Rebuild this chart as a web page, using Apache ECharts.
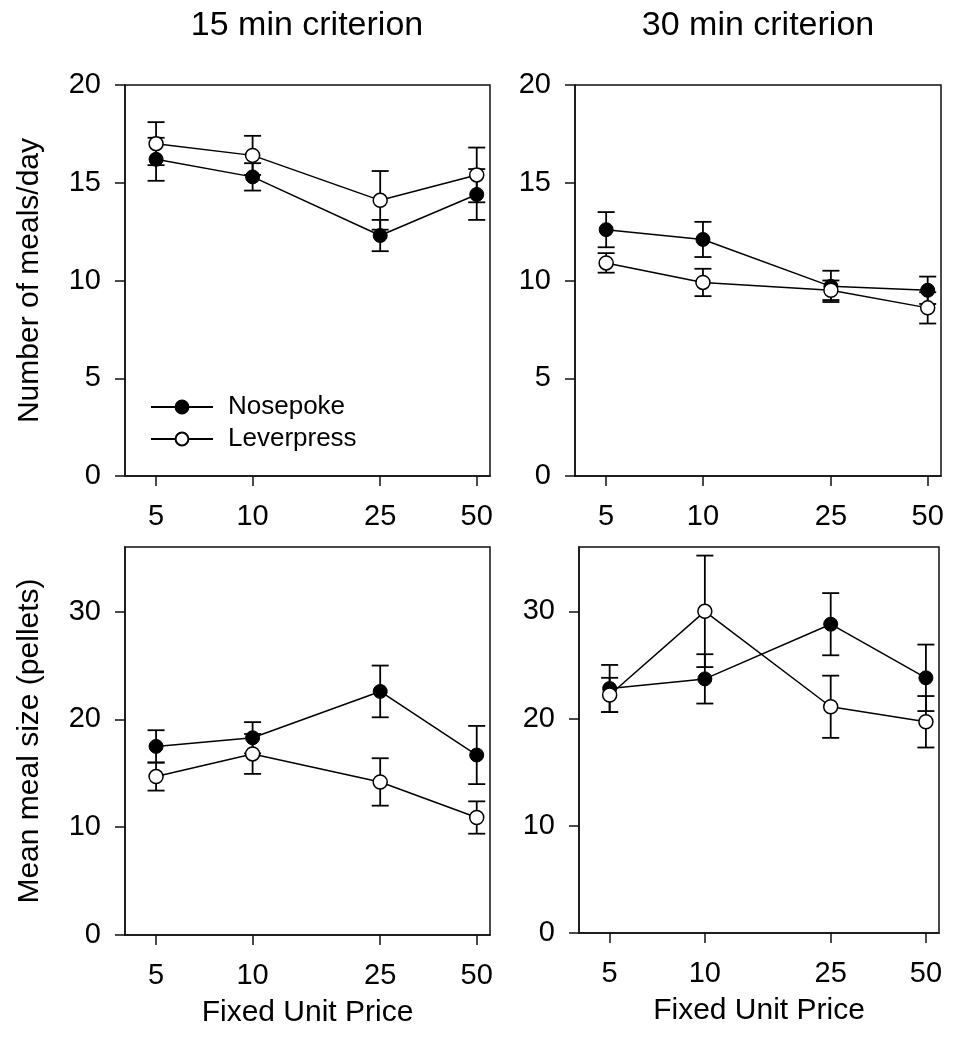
<!DOCTYPE html>
<html><head><meta charset="utf-8">
<script src="https://cdn.jsdelivr.net/npm/echarts@6/dist/echarts.min.js"></script>
<style>html,body{margin:0;padding:0;background:#fff}#c{width:966px;height:1050px}</style>
</head><body><div id="c"></div>
<script>
// ---- data ----
const prices = [5, 10, 25, 50];
const priceTicks = [5, 10, 25, 50];
const mealsTicks = [0, 5, 10, 15, 20];
const sizeTicks = [0, 10, 20, 30];
const panelTitles = ['15 min criterion', '30 min criterion'];
const seriesNames = ['Nosepoke', 'Leverpress'];

const meals15Nose = [16.2, 15.3, 12.3, 14.4];
const meals15NoseErr = [1.1, 0.7, 0.8, 1.3];
const meals15Lever = [17.0, 16.4, 14.1, 15.4];
const meals15LeverErr = [1.1, 1.0, 1.5, 1.4];

const meals30Nose = [12.6, 12.1, 9.7, 9.5];
const meals30NoseErr = [0.9, 0.9, 0.8, 0.7];
const meals30Lever = [10.9, 9.9, 9.5, 8.6];
const meals30LeverErr = [0.5, 0.7, 0.5, 0.8];

const size15Nose = [17.5, 18.3, 22.6, 16.7];
const size15NoseErr = [1.5, 1.45, 2.4, 2.7];
const size15Lever = [14.7, 16.8, 14.2, 10.9];
const size15LeverErr = [1.3, 1.85, 2.2, 1.5];

const size30Nose = [22.8, 23.7, 28.8, 23.8];
const size30NoseErr = [2.2, 2.3, 2.9, 3.1];
const size30Lever = [22.2, 30.0, 21.1, 19.7];
const size30LeverErr = [1.6, 5.2, 2.9, 2.4];

// ---- styling ----
const FONT = 'Liberation Sans, Arial, Helvetica, sans-serif';
const INK = '#111';

const grids = [
  {left: 125, top: 85, width: 365, height: 391},
  {left: 575, top: 85, width: 366, height: 391},
  {left: 125, top: 547, width: 365, height: 388},
  {left: 579, top: 547, width: 360, height: 386}
].map(g => Object.assign({show: true, borderColor: INK, borderWidth: 1.5, backgroundColor: 'transparent'}, g));

function xAxis(i, withName) {
  return {
    type: 'log', gridIndex: i, min: 4, max: 55,
    axisLine: {show: true, lineStyle: {color: INK, width: 1.5}},
    axisTick: {show: true, inside: false, length: 10, customValues: priceTicks, lineStyle: {color: INK, width: 1.5}},
    axisLabel: {show: true, margin: 26, customValues: priceTicks, color: '#000', fontFamily: FONT, fontSize: 29,
      formatter: v => String(Math.round(v))},
    splitLine: {show: false},
    name: withName ? 'Fixed Unit Price' : '',
    nameLocation: 'middle', nameGap: 63,
    nameTextStyle: {color: '#000', fontFamily: FONT, fontSize: 30}
  };
}
function yAxis(i, ticks, max, name) {
  return {
    type: 'value', gridIndex: i, min: 0, max: max,
    axisLine: {show: true, lineStyle: {color: INK, width: 1.5}},
    axisTick: {show: true, inside: false, length: 10, customValues: ticks, lineStyle: {color: INK, width: 1.5}},
    axisLabel: {show: true, margin: 24, customValues: ticks, color: '#000', fontFamily: FONT, fontSize: 29},
    splitLine: {show: false},
    name: name || '', nameLocation: 'middle', nameGap: 80,
    nameTextStyle: {color: '#000', fontFamily: FONT, fontSize: 30}
  };
}

function errSeries(gi, name, means, errs) {
  return {
    type: 'custom', name: name + ' SEM', xAxisIndex: gi, yAxisIndex: gi, z: 1, silent: true,
    encode: {x: 0, y: [1, 2]},
    data: prices.map((p, i) => [p, means[i] - errs[i], means[i] + errs[i]]),
    renderItem: function (params, api) {
      const x = api.value(0);
      const lo = api.coord([x, api.value(1)]);
      const hi = api.coord([x, api.value(2)]);
      const w = 8.5;
      const st = {stroke: '#000', lineWidth: 1.8, fill: null};
      return {type: 'group', children: [
        {type: 'line', shape: {x1: lo[0], y1: lo[1], x2: hi[0], y2: hi[1]}, style: st},
        {type: 'line', shape: {x1: lo[0] - w, y1: lo[1], x2: lo[0] + w, y2: lo[1]}, style: st},
        {type: 'line', shape: {x1: hi[0] - w, y1: hi[1], x2: hi[0] + w, y2: hi[1]}, style: st}
      ]};
    }
  };
}
function lineSeries(gi, name, means, open) {
  return {
    type: 'line', name: name, xAxisIndex: gi, yAxisIndex: gi, z: open ? 4 : 3,
    data: prices.map((p, i) => [p, means[i]]),
    symbol: 'circle', symbolSize: 14, showSymbol: true,
    lineStyle: {color: '#000', width: 1.5},
    itemStyle: open ? {color: '#fff', borderColor: '#000', borderWidth: 1.5}
                    : {color: '#000', borderColor: '#000', borderWidth: 1},
    emphasis: {disabled: true}
  };
}

const panels = [
  [meals15Nose, meals15NoseErr, meals15Lever, meals15LeverErr],
  [meals30Nose, meals30NoseErr, meals30Lever, meals30LeverErr],
  [size15Nose, size15NoseErr, size15Lever, size15LeverErr],
  [size30Nose, size30NoseErr, size30Lever, size30LeverErr]
];
const series = [];
panels.forEach((p, gi) => {
  series.push(errSeries(gi, seriesNames[0], p[0], p[1]));
  series.push(errSeries(gi, seriesNames[1], p[2], p[3]));
});
panels.forEach((p, gi) => {
  series.push(lineSeries(gi, seriesNames[0], p[0], false));
  series.push(lineSeries(gi, seriesNames[1], p[2], true));
});

const option = {
  animation: false,
  backgroundColor: '#fff',
  grid: grids,
  xAxis: [xAxis(0, false), xAxis(1, false), xAxis(2, true), xAxis(3, true)],
  yAxis: [
    yAxis(0, mealsTicks, 20, 'Number of meals/day'),
    yAxis(1, mealsTicks, 20, ''),
    yAxis(2, sizeTicks, 36, 'Mean meal size (pellets)'),
    yAxis(3, sizeTicks, 36, '')
  ],
  legend: {
    data: seriesNames, orient: 'vertical', left: 150, top: 394, padding: 0,
    itemWidth: 62, itemHeight: 16, itemGap: 6, selectedMode: false,
    textStyle: {color: '#000', fontFamily: FONT, fontSize: 26, lineHeight: 26, padding: [0, 0, 0, 10]}
  },
  graphic: [
    {type: 'text', x: 307, y: 26, style: {text: panelTitles[0], fill: '#000', font: '34px ' + FONT, textAlign: 'center', textVerticalAlign: 'middle'}},
    {type: 'text', x: 758, y: 26, style: {text: panelTitles[1], fill: '#000', font: '34px ' + FONT, textAlign: 'center', textVerticalAlign: 'middle'}}
  ],
  series: series
};
const chart = echarts.init(document.getElementById('c'), null, {renderer: 'canvas'});
chart.setOption(option);
</script>
</body></html>
